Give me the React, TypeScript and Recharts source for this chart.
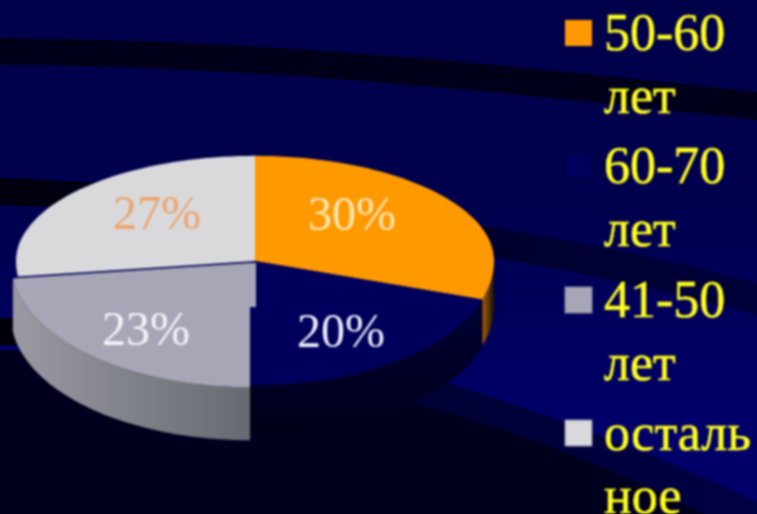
import React from "react";
import { PieChart, Pie, Legend } from "recharts";

const categories = ["50-60 лет", "60-70 лет", "41-50 лет", "осталь ное"];
const shares = [30, 20, 23, 27];
const colors = ["#ff9900", "#00005c", "#a6a6b6", "#d9d9dc"];
const wallFrom = ["#a86200", "#000034", "#9a9aa2", "#999"];
const wallTo = ["#1a1000", "#00001a", "#666a70", "#666"];
const wallVertical = [false, true, false, false];
const wallDepth = [46, 48, 53, 0];
const labelColors = ["#ffe7b8", "#eeeef8", "#f4f4fa", "#eba56c"];
const labelOffsets = [[97, -31], [86, 86], [-109, 84], [-98, -32]];
const explode = [[0, 0], [0, 0], [-5, 2], [0, 0]];
const legendBaselines = [50, 183, 317, 450];

const tableData = categories.map((name, i) => ({ name, value: shares[i], fill: colors[i] }));

const BACK = 0.44;
const FRONT = 0.52;
const RAD = Math.PI / 180;

function point(cx: number, cy: number, r: number, a: number) {
  const s = Math.sin(a * RAD);
  return [cx + r * Math.cos(a * RAD), cy - r * s * (s > 0 ? BACK : FRONT)];
}

function arc(cx: number, cy: number, r: number, from: number, to: number) {
  const n = Math.max(2, Math.ceil(Math.abs(to - from) / 2));
  const pts: number[][] = [];
  for (let k = 0; k <= n; k++) pts.push(point(cx, cy, r, from + ((to - from) * k) / n));
  return pts;
}

function SliceShape(props: any) {
  const { cx, cy, outerRadius, startAngle, endAngle, fill, index } = props;
  const [dx, dy] = explode[index] ?? [0, 0];
  const x = cx + dx;
  const y = cy + dy;
  const depth = wallDepth[index];
  const top = arc(x, y, outerRadius, startAngle, endAngle);
  const topPath =
    `M${x},${y} ` + top.map((p) => `L${p[0].toFixed(1)},${p[1].toFixed(1)}`).join(" ") + " Z";
  const hi = Math.max(startAngle, endAngle);
  const lo = Math.min(startAngle, endAngle);
  const wallHi = Math.min(hi, 0);
  const wallLo = Math.max(lo, -180);
  let wall: string | null = null;
  if (depth > 0 && wallHi > wallLo) {
    const edge = arc(x, y, outerRadius, wallHi, wallLo);
    const low = [...edge].reverse().map((p) => [p[0], p[1] + depth]);
    wall = [...edge, ...low].map((p, j) => `${j ? "L" : "M"}${p[0].toFixed(1)},${p[1].toFixed(1)}`).join(" ") + " Z";
  }
  const frontY = cy + outerRadius * FRONT;
  return (
    <g>
      {dx !== 0 && (
        <g>
          <rect x={x} y={y} width={-dx + 1} height={44} fill={fill} />
          <rect x={x} y={y + 44} width={-dx + 1} height={frontY - y - 44} fill={colors[1]} />
          <rect x={x} y={frontY} width={-dx + 1} height={wallDepth[1]} fill={wallTo[1]} />
        </g>
      )}
      {wall && <path d={wall} fill={`url(#wall${index})`} stroke="none" />}
      <path d={topPath} fill={fill} stroke="none" />
    </g>
  );
}

function SliceLabel(props: any) {
  const { cx, cy, index, percent } = props;
  const [ox, oy] = labelOffsets[index];
  return (
    <text x={cx + ox} y={cy + oy} textAnchor="middle" fill={labelColors[index]}
      fontFamily="'Liberation Serif'" fontSize={48}>
      {`${Math.round(percent * 100)}%`}
    </text>
  );
}

function LegendContent(props: any) {
  const payload = props.payload ?? [];
  return (
    <svg width={217} height={514} style={{ display: "block", overflow: "visible" }}>
      {payload.map((item: any, i: number) => {
        const base = legendBaselines[i];
        const lines = String(item.value).split(" ");
        return (
          <g key={i}>
            <rect x={25} y={base - 30} width={27} height={26} fill={colors[i]}
              stroke={i === 0 ? "none" : i === 1 ? "#00002e" : "#8f8fa0"} strokeWidth={0.8} />
            {lines.map((l, j) => (
              <text key={j} x={64} y={base + j * 63} fontFamily="'Liberation Serif'" fontSize={52}
                fill="#ffff1e" stroke="#ffff1e" strokeWidth={0.5}>{l}</text>
            ))}
          </g>
        );
      })}
    </svg>
  );
}

export default function App() {
  return (
    <div style={{ position: "absolute", left: 0, top: 0, width: 757, height: 514, overflow: "hidden", background: "#00004a" }}>
      <svg width={757} height={514} style={{ position: "absolute", left: 0, top: 0 }}>
        <defs>
          <linearGradient id="bgShade" x1="0" y1="0" x2="0" y2="1">
            <stop offset="0" stopColor="#00004a" />
            <stop offset="0.4" stopColor="#00004e" />
            <stop offset="0.8" stopColor="#000068" />
          </linearGradient>
          <linearGradient id="band2" x1="0" y1="0" x2="1" y2="0">
            <stop offset="0" stopColor="#00000e" />
            <stop offset="0.7" stopColor="#000030" />
            <stop offset="1" stopColor="#00003a" />
          </linearGradient>
          <linearGradient id="band3" x1="0" y1="0" x2="1" y2="0">
            <stop offset="0" stopColor="#00000a" />
            <stop offset="0.55" stopColor="#000034" />
            <stop offset="1" stopColor="#000044" />
          </linearGradient>
        </defs>
        <rect width={757} height={514} fill="url(#bgShade)" />
        <path d="M0,38 C200,40 400,52 757,92 L757,120 C400,80 200,66 0,65 Z" fill="#00001a" />
        <path d="M0,178 C200,185 500,215 757,283 L757,315 C500,245 200,212 0,205 Z" fill="url(#band2)" />
        <path d="M0,318 C200,325 400,370 454,385 C560,418 680,465 757,502 L757,540 C660,490 540,435 420,405 C300,375 200,352 0,345 Z" fill="url(#band3)" />
        <path d="M0,350 C200,356 300,375 420,405 C540,435 660,490 757,540 L757,514 L0,514 Z" fill="#00001e" />
      </svg>
      <div style={{ position: "absolute", left: 0, top: 0, width: 757, height: 514, filter: "blur(0.8px)" }}>
        <PieChart width={757} height={514} margin={{ top: 0, right: 0, bottom: 0, left: 0 }}>
          <defs>
            {wallFrom.map((c, i) => (
              <linearGradient key={i} id={`wall${i}`} x1="0" y1="0" x2={wallVertical[i] ? "0" : "1"} y2={wallVertical[i] ? "1" : "0"}>
                <stop offset="0" stopColor={c} />
                <stop offset="1" stopColor={wallTo[i]} />
              </linearGradient>
            ))}
          </defs>
          <Pie data={tableData} dataKey="value" nameKey="name" cx={255} cy={261} outerRadius={239}
            startAngle={90} endAngle={-270} stroke="none" isAnimationActive={false}
            shape={SliceShape} label={SliceLabel} labelLine={false} />
          <Legend layout="vertical" align="right" verticalAlign="top" content={LegendContent} itemSorter={null}
            wrapperStyle={{ position: "absolute", left: 540, top: 0, width: 217, height: 514 }} />
        </PieChart>
      </div>
    </div>
  );
}
